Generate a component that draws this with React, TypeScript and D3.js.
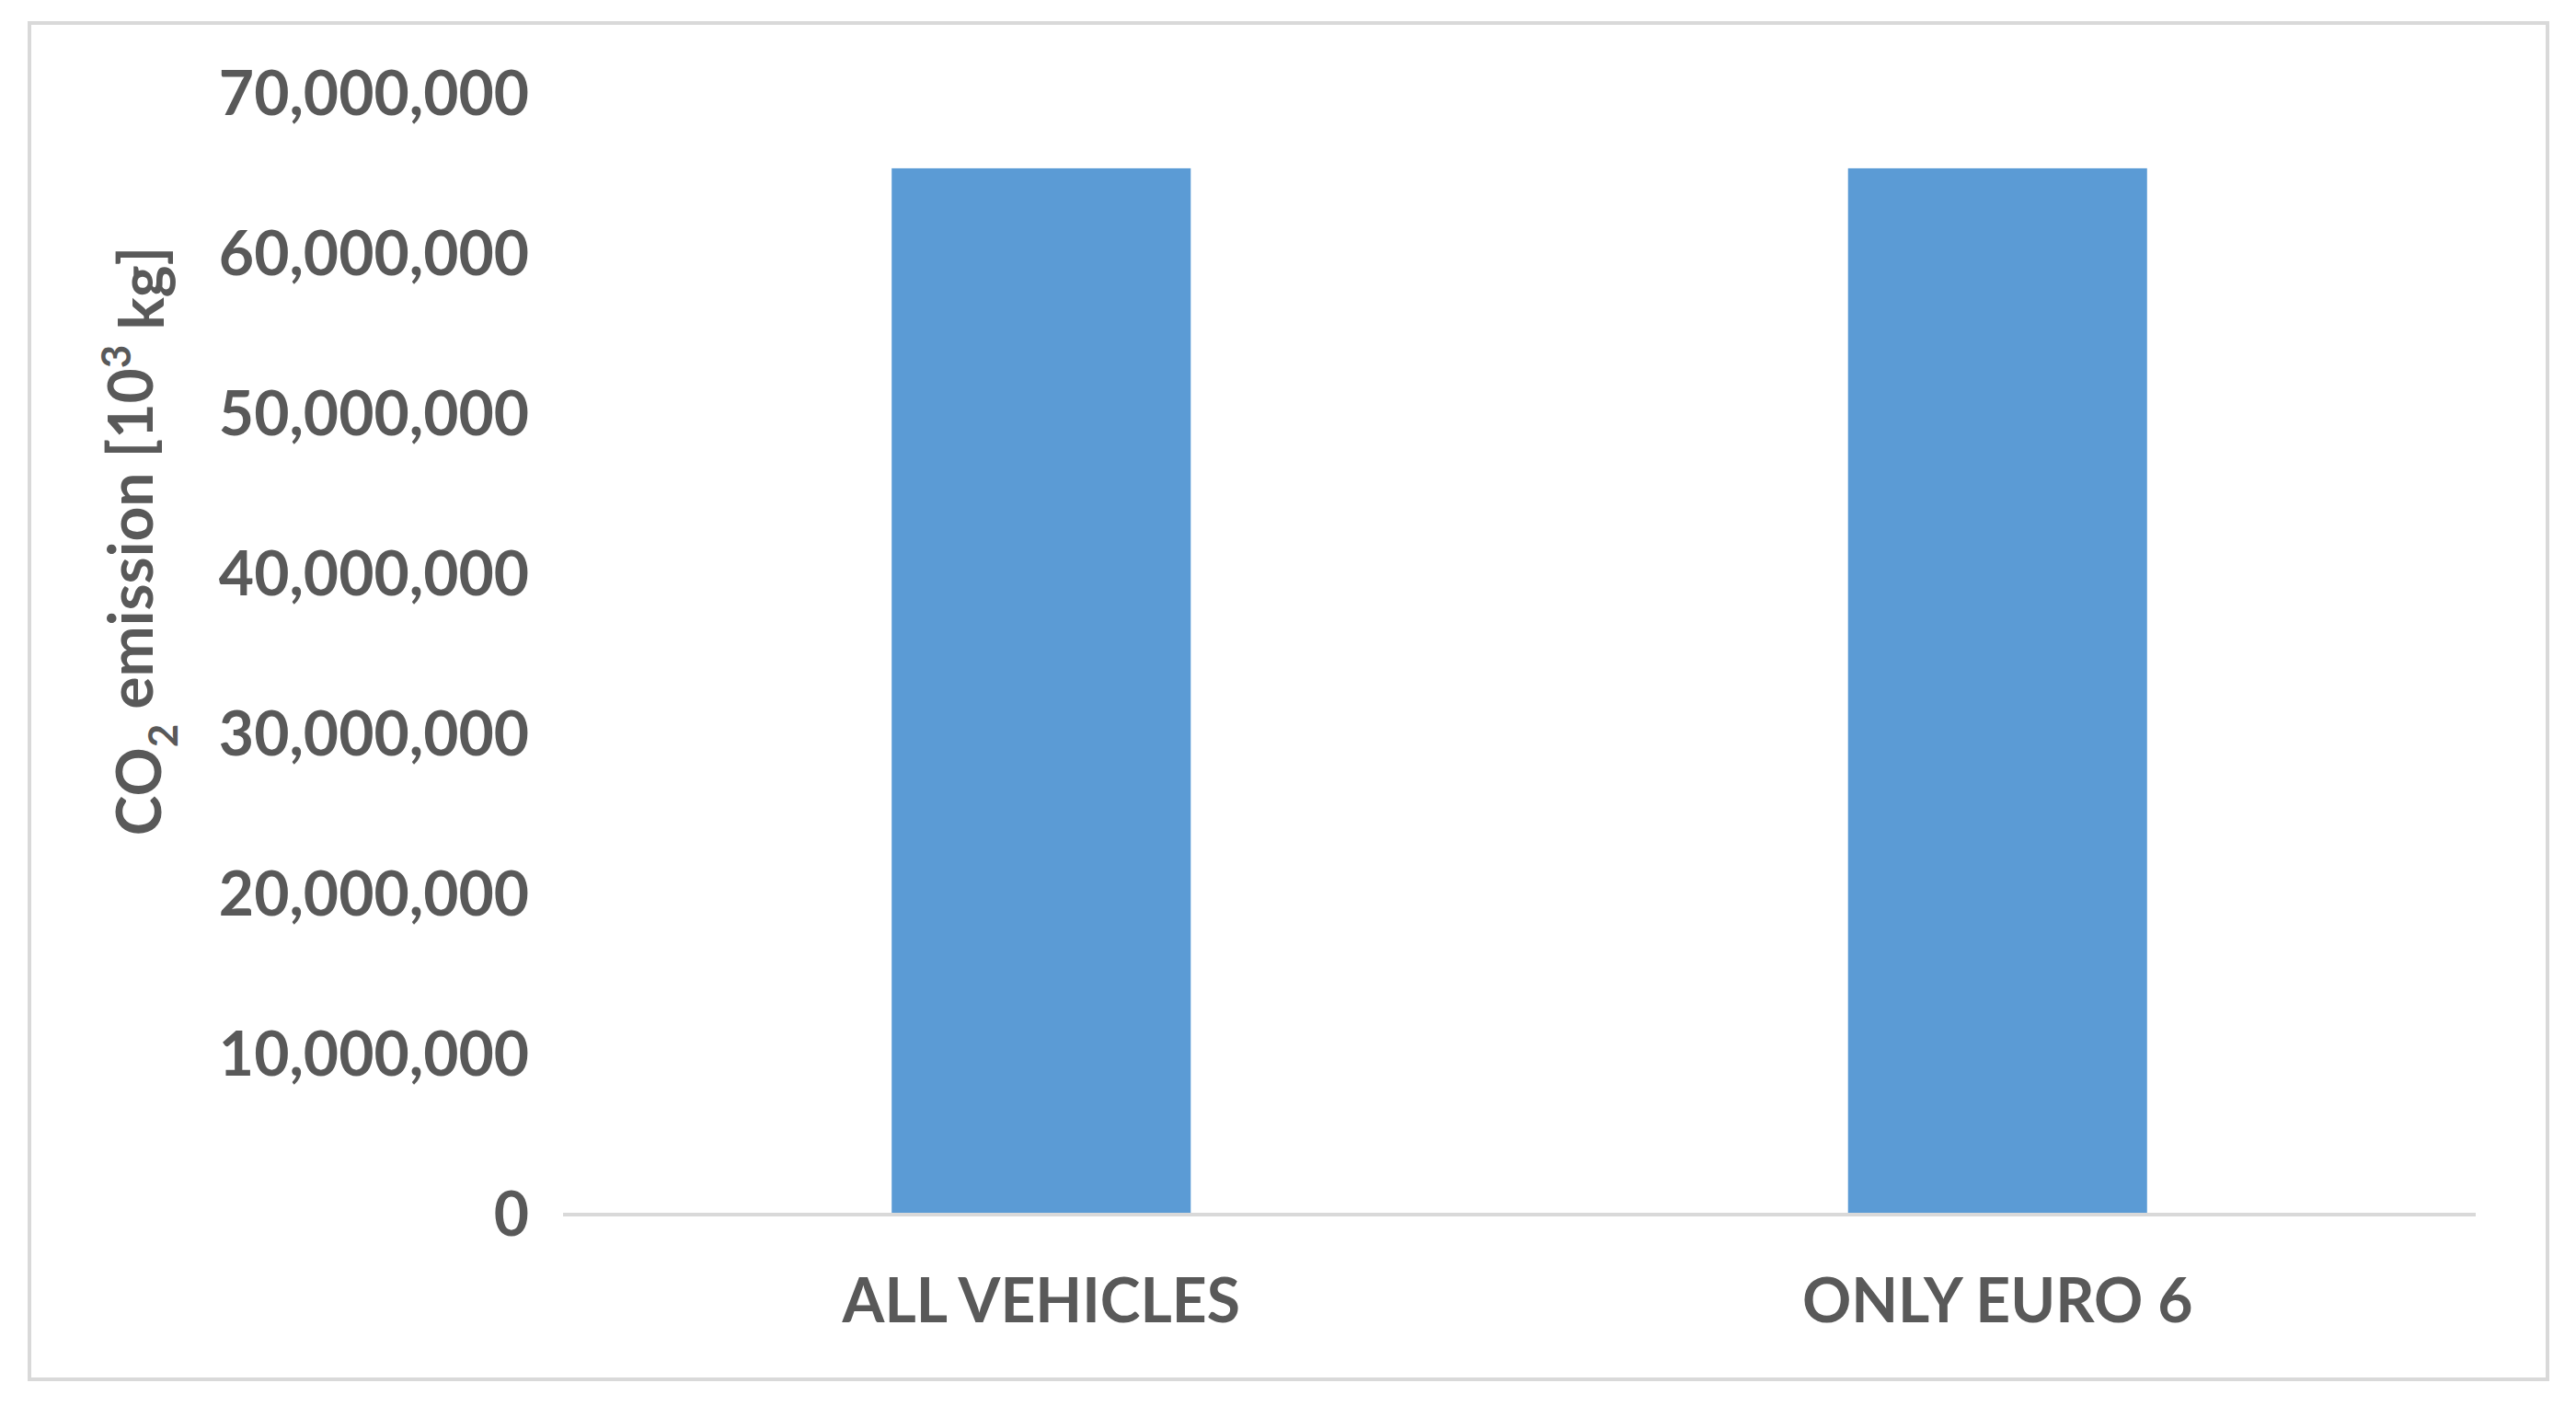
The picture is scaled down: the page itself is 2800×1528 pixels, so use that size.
import React from 'react';
import * as d3 from 'd3';

const categories = ["ALL VEHICLES", "ONLY EURO 6"];
const emissions = [65350000, 65350000];
const yTicks = [0, 10000000, 20000000, 30000000, 40000000, 50000000, 60000000, 70000000];
const yLabel = "CO";
const yMax = 70000000;

const W = 2800;
const H = 1528;
const margin = { top: 102, right: 109, bottom: 208, left: 612 };
const plotW = W - margin.left - margin.right;
const plotH = H - margin.top - margin.bottom;
const barRatio = 0.3127;

const textColor = "#595959";
const font = "Lato, 'Open Sans', sans-serif";

const App = () => {
  const x = d3.scaleBand<string>().domain(categories).range([0, plotW]).padding(0);
  const y = d3.scaleLinear().domain([0, yMax]).range([plotH, 0]);
  const fmt = d3.format(",");
  const barW = x.bandwidth() * barRatio;

  return (
    <svg width={W} height={H} style={{ position: 'absolute', left: 0, top: 0, background: '#fff' }}>
      <rect x={32} y={25} width={2737} height={1474} fill="#fff" stroke="#d9d9d9" strokeWidth={4} />
      <g transform={`translate(${margin.left}, ${margin.top})`}>
        {/* bars */}
        {emissions.map((d, i) => (
          <rect key={i}
            x={(x(categories[i]) as number) + (x.bandwidth() - barW) / 2}
            y={y(d)}
            width={barW}
            height={plotH - y(d)}
            fill="#5b9bd5" />
        ))}

        {/* baseline */}
        <line x1={0} x2={plotW} y1={y(0)} y2={y(0)} stroke="#d9d9d9" strokeWidth={4} />

        {/* y tick labels */}
        {yTicks.map(t => (
          <text key={t} x={-37} y={y(t)} dy="0.35em" textAnchor="end"
            fontFamily={font} fontWeight={700} fontSize={66} fill={textColor}>
            {fmt(t)}
          </text>
        ))}

        {/* category labels */}
        {categories.map(c => (
          <text key={c} x={(x(c) as number) + x.bandwidth() / 2} y={plotH + 94} dy="0.35em"
            textAnchor="middle" fontFamily={font} fontWeight={700} fontSize={66} fill={textColor}>
            {c}
          </text>
        ))}
      </g>

      {/* y axis title */}
      <text transform={`translate(152, 588) rotate(-90)`} dy="0.35em" textAnchor="middle"
        fontFamily={font} fontWeight={700} fontSize={66} fill={textColor}>
        {yLabel}
        <tspan fontSize={44} dy="0.4em">2</tspan>
        <tspan dy="-0.4em"> emission [10</tspan>
        <tspan fontSize={44} dy="-0.55em">3</tspan>
        <tspan dy="0.55em"> kg]</tspan>
      </text>
    </svg>
  );
};

export default App;
